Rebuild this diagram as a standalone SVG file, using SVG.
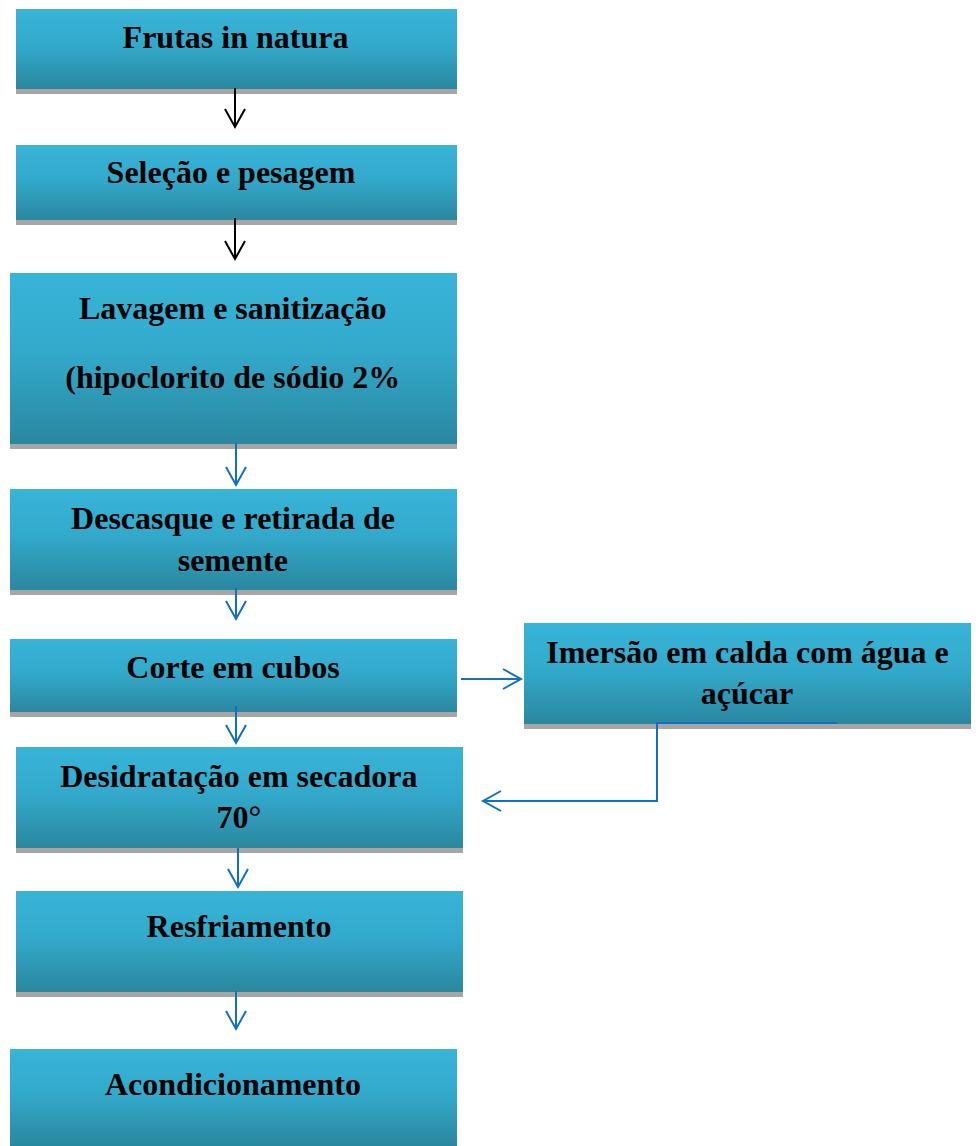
<svg xmlns="http://www.w3.org/2000/svg" width="979" height="1146" viewBox="0 0 979 1146">
<defs>
<linearGradient id="g" x1="0" y1="0" x2="0" y2="1">
<stop offset="0" stop-color="#37B4D8"/>
<stop offset="0.45" stop-color="#33AACC"/>
<stop offset="1" stop-color="#2A879F"/>
</linearGradient>
<marker id="ab" viewBox="-20 -12 22 24" refX="0" refY="0" markerWidth="22" markerHeight="24" markerUnits="userSpaceOnUse" orient="auto" overflow="visible">
<path d="M-18,-10 L0,0 L-18,10" fill="none" stroke="#000" stroke-width="2"/>
</marker>
<marker id="au" viewBox="-20 -12 22 24" refX="0" refY="0" markerWidth="22" markerHeight="24" markerUnits="userSpaceOnUse" orient="auto" overflow="visible">
<path d="M-18,-10 L0,0 L-18,10" fill="none" stroke="#1070C4" stroke-width="2"/>
</marker>
</defs>
<style>
.box{fill:url(#g)}
.sh{fill:#A6A6A6}
.t{font-family:"Liberation Serif","Times New Roman",serif;font-weight:bold;font-size:32px;fill:#000;text-anchor:middle}
.cb{fill:none;stroke:#000;stroke-width:2}
.cu{fill:none;stroke:#1070C4;stroke-width:2}
</style>
<rect width="979" height="1146" fill="#fff"/>
<g id="n1"><rect class="sh" x="16" y="89" width="441" height="5"/><rect class="box" x="16" y="9" width="441" height="80"/><text class="t" x="235.5" y="48">Frutas in natura</text></g>
<g id="n2"><rect class="sh" x="16" y="220" width="441" height="5"/><rect class="box" x="16" y="145" width="441" height="75"/><text class="t" x="231" y="183">Seleção e pesagem</text></g>
<g id="n3"><rect class="sh" x="10" y="444" width="447" height="5"/><rect class="box" x="10" y="273" width="447" height="171"/><text class="t" x="232.7" y="319">Lavagem e sanitização</text><text class="t" x="232.8" y="388">(hipoclorito de sódio 2%</text></g>
<g id="n4"><rect class="sh" x="10" y="590" width="447" height="5"/><rect class="box" x="10" y="489" width="447" height="101"/><text class="t" x="233" y="529">Descasque e retirada de</text><text class="t" x="232.8" y="571">semente</text></g>
<g id="n5"><rect class="sh" x="10" y="712" width="447" height="5"/><rect class="box" x="10" y="639" width="447" height="73"/><text class="t" x="233" y="678">Corte em cubos</text></g>
<g id="n6"><rect class="sh" x="524" y="724" width="447" height="5"/><rect class="box" x="524" y="623" width="447" height="101"/><text class="t" x="747.5" y="663">Imersão em calda com água e</text><text class="t" x="747" y="704">açúcar</text></g>
<g id="n7"><rect class="sh" x="16" y="848" width="447" height="5"/><rect class="box" x="16" y="747" width="447" height="101"/><text class="t" x="238.8" y="787">Desidratação em secadora</text><text class="t" x="239" y="828">70°</text></g>
<g id="n8"><rect class="sh" x="16" y="992" width="447" height="5"/><rect class="box" x="16" y="891" width="447" height="101"/><text class="t" x="239" y="937">Resfriamento</text></g>
<g id="n9"><rect class="box" x="10" y="1049" width="447" height="97"/><text class="t" x="233" y="1095">Acondicionamento</text></g>
<g id="connectors">
<path class="cb" d="M235,88 V127" marker-end="url(#ab)"/>
<path class="cb" d="M235,218 V259" marker-end="url(#ab)"/>
<path class="cu" d="M236,443 V485" marker-end="url(#au)"/>
<path class="cu" d="M236,588 V619" marker-end="url(#au)"/>
<path class="cu" d="M236,706 V743" marker-end="url(#au)"/>
<path class="cu" d="M238,848 V887" marker-end="url(#au)"/>
<path class="cu" d="M236,991 V1029" marker-end="url(#au)"/>
<path class="cu" d="M461,679 H521" marker-end="url(#au)"/>
<path class="cu" d="M837,723 H657 V801 H483" marker-end="url(#au)"/>
</g>
</svg>
